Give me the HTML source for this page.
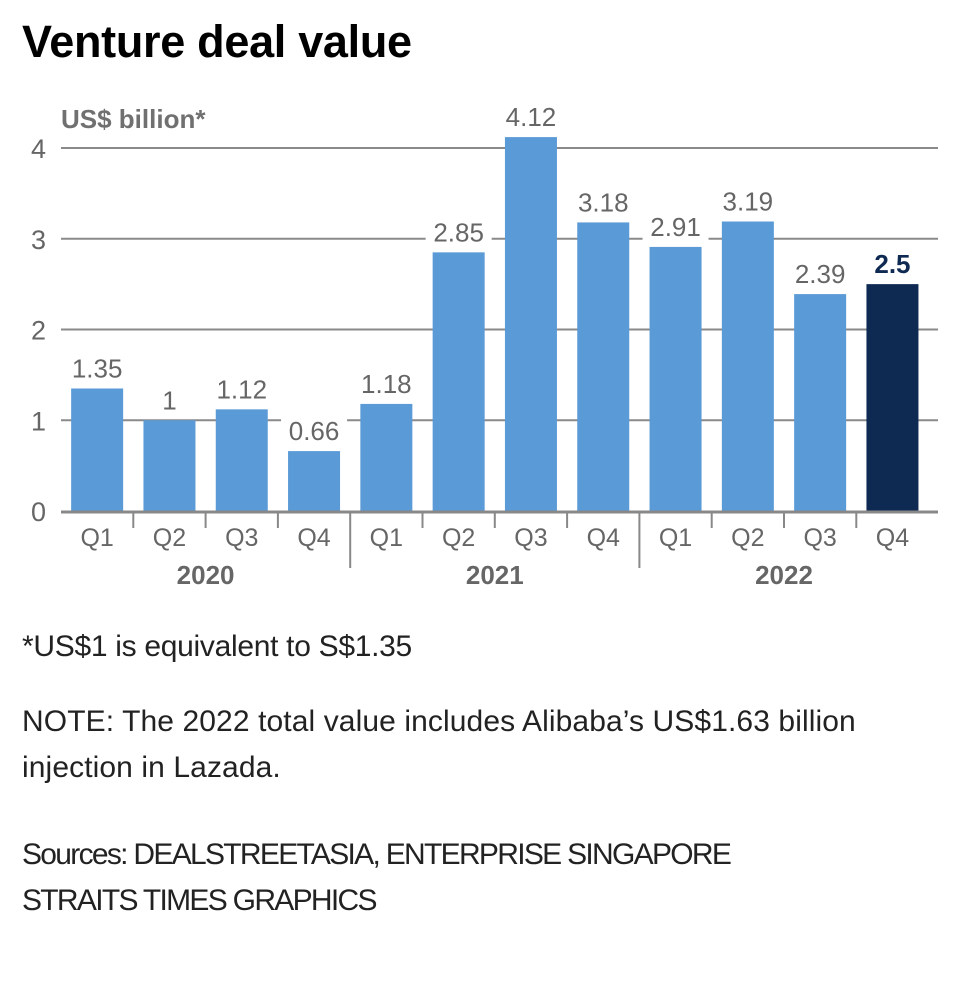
<!DOCTYPE html>
<html><head><meta charset="utf-8"><style>
body{margin:0;background:#fff;width:960px;height:1000px;overflow:hidden;font-family:"Liberation Sans",sans-serif}
h1{position:absolute;left:22px;top:16px;margin:0;font-size:45px;font-weight:bold;color:#000;letter-spacing:-0.3px}
.note{position:absolute;left:22px;font-size:30px;color:#222;line-height:46px;letter-spacing:-0.3px}
svg{position:absolute;left:0;top:0}
</style></head><body>
<h1>Venture deal value</h1>
<svg id="chart" width="960" height="620"></svg>
<div class="note" style="top:624px">*US$1 is equivalent to S$1.35</div>
<div class="note" style="top:699px;letter-spacing:0.1px">NOTE: The 2022 total value includes Alibaba’s US$1.63 billion<br>injection in Lazada.</div>
<div class="note" style="top:832px;letter-spacing:-1.7px">Sources: DEALSTREETASIA, ENTERPRISE SINGAPORE<br>STRAITS TIMES GRAPHICS</div>
<script>
const quarters=["Q1","Q2","Q3","Q4","Q1","Q2","Q3","Q4","Q1","Q2","Q3","Q4"];
const years=["2020","2021","2022"];
const values=[1.35,1,1.12,0.66,1.18,2.85,4.12,3.18,2.91,3.19,2.39,2.5];
const labels=["1.35","1","1.12","0.66","1.18","2.85","4.12","3.18","2.91","3.19","2.39","2.5"];
const yTicks=[0,1,2,3,4];
const svg=document.getElementById('chart');
const NS='http://www.w3.org/2000/svg';
const x0=61,x1=938,y0=511,y4=148;
const y=v=>y0-(y0-y4)*v/4;
const step=72.3;
const bw=52;
function mk(t,a,txt){const e=document.createElementNS(NS,t);for(const k in a)e.setAttribute(k,a[k]);if(txt!==undefined)e.textContent=txt;svg.appendChild(e);return e;}
let e=mk('text',{x:61,y:128,'font-size':26,'font-weight':'bold',fill:'#707070'},'US$ billion*');


yTicks.forEach(t=>{
  if(t>0){const l=mk('line',{x1:x0,x2:x1,y1:y(t),y2:y(t),stroke:'#8a8a8a','stroke-width':2});
  
  }
  const tx=mk('text',{x:46,y:y(t)+10,'font-size':27,fill:'#666','text-anchor':'end'},String(t));
  
  
});
values.forEach((v,i)=>{
  const cx=x0+step*(i+0.5);
  const r=mk('rect',{x:cx-bw/2,y:y(v),width:bw,height:y0-y(v),fill:i==values.length-1?'#0f2a52':'#5a9ad6'});
  
  
  const last=i==values.length-1;
  const tw=labels[i].length*15+6;
  const bg=mk('rect',{x:cx-tw/2,y:y(v)-35,width:tw,height:29,fill:'#fff'});
  
  
  const t=mk('text',{x:cx,y:y(v)-11,'font-size':26,'text-anchor':'middle',fill:last?'#0f2a52':'#666','font-weight':last?'bold':'normal'},labels[i]);
  
  
  const q=mk('text',{x:cx,y:546,'font-size':25,'text-anchor':'middle',fill:'#666'},quarters[i]);
  
  
  if(i>0){const tk=mk('line',{x1:x0+step*i,x2:x0+step*i,y1:511,y2:i%4==0?568:528,stroke:'#888','stroke-width':2});
  
  }
});
const ax=mk('line',{x1:x0,x2:x1,y1:y0+1,y2:y0+1,stroke:'#888','stroke-width':3});


years.forEach((yr,j)=>{
  const t=mk('text',{x:x0+step*(j*4+2),y:584,'font-size':26,'font-weight':'bold','text-anchor':'middle',fill:'#666'},yr);
  
  
});
</script>
</body></html>
